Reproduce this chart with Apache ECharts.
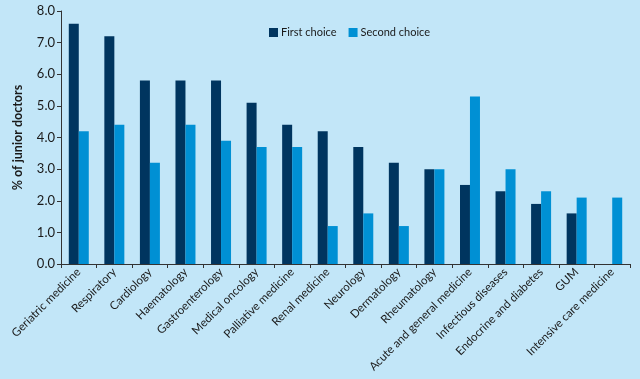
<!DOCTYPE html>
<html><head><meta charset="utf-8">
<script src="https://cdn.jsdelivr.net/npm/echarts@6/dist/echarts.min.js"></script>
<style>html,body{margin:0;padding:0;background:#c2e6f8}#c{width:640px;height:379px}</style>
</head><body><div id="c"></div>
<script>
const categories = ["Geriatric medicine","Respiratory","Cardiology","Haematology","Gastroenterology","Medical oncology","Palliative medicine","Renal medicine","Neurology","Dermatology","Rheumatology","Acute and general medicine","Infectious diseases","Endocrine and diabetes","GUM","Intensive care medicine"];
const firstChoice = [7.6,7.2,5.8,5.8,5.8,5.1,4.4,4.2,3.7,3.2,3.0,2.5,2.3,1.9,1.6,null];
const secondChoice = [4.2,4.4,3.2,4.4,3.9,3.7,3.7,1.2,1.6,1.2,3.0,5.3,3.0,2.3,2.1,2.1];
const yTicks = [0,1,2,3,4,5,6,7,8];
const font = "Lato";
const chart = echarts.init(document.getElementById('c'));
chart.setOption({
  backgroundColor: '#c2e6f8',
  animation: false,
  textStyle: {fontFamily: font},
  legend: {
    top: 22, left: 264, itemWidth: 9, itemHeight: 9, itemGap: 12,
    icon: 'rect',
    textStyle: {fontFamily: font, fontSize: 11, color: '#1a1a1a', padding: [0,0,0,-2]},
    data: ['First choice','Second choice']
  },
  grid: {left: 61, right: 10, top: 11, bottom: 115, containLabel: false},
  xAxis: {
    type: 'category', data: categories,
    axisLine: {lineStyle: {color: '#333', width: 1}},
    axisTick: {show: true, alignWithLabel: false, length: 4, lineStyle: {color: '#333'}},
    axisLabel: {rotate: 45, interval: 0, fontSize: 11.5, color: '#1a1a1a', fontFamily: font, margin: 6}
  },
  yAxis: {
    type: 'value', min: yTicks[0], max: yTicks[yTicks.length-1], interval: 1,
    name: '% of junior doctors', nameLocation: 'middle', nameGap: 37,
    nameTextStyle: {fontSize: 12.5, fontWeight: 'bold', color: '#1a1a1a', fontFamily: font},
    axisLine: {show: true, lineStyle: {color: '#333'}},
    axisTick: {show: true, length: 4, lineStyle: {color: '#333'}},
    splitLine: {show: false},
    axisLabel: {fontSize: 13, color: '#1a1a1a', fontFamily: font, formatter: v => v.toFixed(1), margin: 6}
  },
  series: [
    {name: 'First choice', type: 'bar', data: firstChoice, barWidth: 10, barGap: '0%', itemStyle: {color: '#00355f'}},
    {name: 'Second choice', type: 'bar', data: secondChoice, barWidth: 10, itemStyle: {color: '#0090d4'}}
  ]
});
</script></body></html>
